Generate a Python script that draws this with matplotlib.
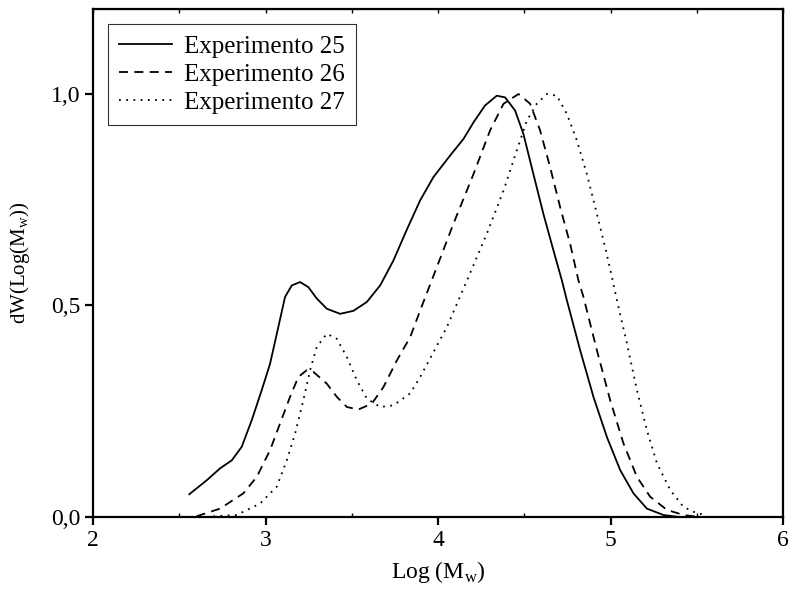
from matplotlib import pyplot as plt

plt.rcParams['font.family'] = ['Liberation Serif', 'DejaVu Serif']
plt.rcParams['mathtext.fontset'] = 'custom'
plt.rcParams['mathtext.rm'] = 'Liberation Serif'

# Experimento 25 (solid)
x25 = [2.558, 2.659, 2.736, 2.804, 2.862, 2.92, 2.978, 3.026, 3.074, 3.113, 3.152, 3.20,
       3.248, 3.297, 3.355, 3.432, 3.509, 3.587, 3.664, 3.741, 3.82, 3.896, 3.973, 4.07,
       4.147, 4.205, 4.272, 4.34, 4.388, 4.446, 4.494, 4.552, 4.61, 4.668, 4.717, 4.746,
       4.823, 4.90, 4.978, 5.055, 5.132, 5.21, 5.306, 5.403]
y25 = [0.054, 0.087, 0.115, 0.134, 0.166, 0.229, 0.30, 0.362, 0.449, 0.52, 0.547, 0.555,
       0.543, 0.516, 0.492, 0.48, 0.487, 0.508, 0.547, 0.606, 0.68, 0.748, 0.803, 0.854,
       0.893, 0.932, 0.972, 0.995, 0.991, 0.96, 0.905, 0.81, 0.716, 0.63, 0.559, 0.512,
       0.394, 0.284, 0.189, 0.111, 0.056, 0.02, 0.005, 0.0]

# Experimento 26 (dashed)
x26 = [2.60, 2.736, 2.871, 2.949, 3.026, 3.084, 3.142, 3.19, 3.239, 3.277, 3.355, 3.413,
       3.471, 3.538, 3.616, 3.683, 3.761, 3.838, 3.896, 3.963, 4.089, 4.205, 4.301, 4.379,
       4.466, 4.533, 4.591, 4.649, 4.707, 4.765, 4.813, 4.842, 4.92, 4.997, 5.074, 5.152,
       5.229, 5.326, 5.422, 5.519]
y26 = [0.002, 0.02, 0.056, 0.095, 0.158, 0.221, 0.284, 0.331, 0.347, 0.343, 0.315, 0.284,
       0.26, 0.254, 0.268, 0.307, 0.37, 0.425, 0.488, 0.559, 0.693, 0.81, 0.913, 0.976,
       0.999, 0.976, 0.913, 0.826, 0.732, 0.645, 0.559, 0.52, 0.394, 0.276, 0.174, 0.095,
       0.048, 0.017, 0.005, 0.0]

# Experimento 27 (dotted)
x27 = [2.697, 2.833, 2.968, 3.065, 3.123, 3.171, 3.219, 3.258, 3.297, 3.355, 3.413, 3.471,
       3.529, 3.587, 3.664, 3.741, 3.838, 3.896, 3.97, 4.05, 4.176, 4.282, 4.379, 4.456,
       4.514, 4.572, 4.63, 4.688, 4.746, 4.804, 4.862, 4.92, 4.968, 5.007, 5.036, 5.094,
       5.152, 5.21, 5.268, 5.345, 5.422, 5.50, 5.558]
y27 = [0.002, 0.005, 0.032, 0.072, 0.134, 0.197, 0.276, 0.347, 0.402, 0.433, 0.421, 0.378,
       0.323, 0.28, 0.26, 0.264, 0.292, 0.331, 0.387, 0.448, 0.567, 0.669, 0.771, 0.866,
       0.936, 0.976, 0.999, 0.995, 0.952, 0.889, 0.81, 0.716, 0.637, 0.567, 0.512, 0.41,
       0.30, 0.205, 0.127, 0.064, 0.024, 0.009, 0.005]

fig = plt.figure(figsize=(7.88, 5.91), dpi=100)
ax = fig.add_axes([0.118, 0.125, 0.876, 0.86])

ax.plot(x25, y25, color='black', lw=1.3, ls='-', label='Experimento 25')
ax.plot(x26, y26, color='black', lw=1.3, ls=(0, (5, 3.5)), label='Experimento 26')
ax.plot(x27, y27, color='black', lw=1.3, ls=(0, (1, 3)), label='Experimento 27')

ax.set_xlim(2, 6)
ax.set_ylim(0, 1.2)
ax.set_xticks([2, 3, 4, 5, 6])
ax.set_xticks([2.5, 3.5, 4.5, 5.5], minor=True)
ax.set_yticks([0, 0.5, 1.0])
ax.set_yticklabels(['0,0', '0,5', '1,0'])
ax.tick_params(axis='both', which='major', direction='out', length=6, width=1.6,
               labelsize=17, pad=3)
ax.tick_params(axis='x', which='minor', direction='in', length=3, width=1)
for s in ax.spines.values():
    s.set_linewidth(1.6)

top = ax.secondary_xaxis('top')
top.set_xticks([2, 2.5, 3, 3.5, 4, 4.5, 5, 5.5, 6])
top.tick_params(direction='in', length=3, width=1, labeltop=False)

ax.set_xlabel('Log (M$_\\mathrm{w}$)', fontsize=17, labelpad=6)
ax.set_ylabel('dW(Log(M$_\\mathrm{w}$))', fontsize=15, labelpad=14)

leg = ax.legend(loc='upper left', fontsize=18, frameon=True, fancybox=False,
                edgecolor='black', handlelength=2.1, handletextpad=0.5,
                borderpad=0.45, labelspacing=0.22, borderaxespad=0.6)
leg.get_frame().set_linewidth(0.8)

plt.savefig('out.png', dpi=100)
